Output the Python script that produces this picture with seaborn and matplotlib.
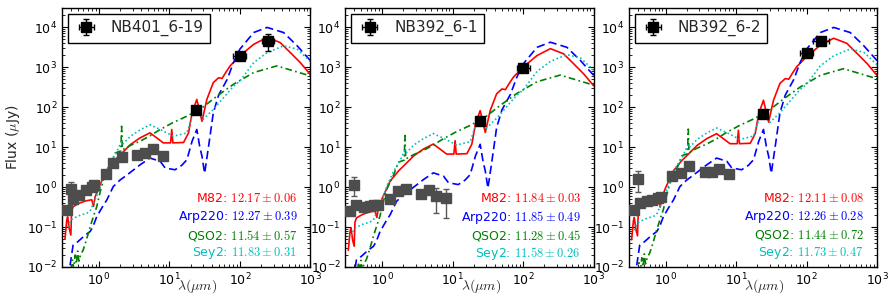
import numpy as np
import pandas as pd
import matplotlib
matplotlib.use('Agg')
import matplotlib.pyplot as plt
import seaborn as sns
from matplotlib.ticker import LogLocator, NullFormatter

# SED templates, as drawn in the first panel (wavelength um, flux uJy)
m82_wl = [0.33, 0.35, 0.36, 0.38, 0.40, 0.41, 0.43, 0.48, 0.54, 0.65, 0.79, 0.84, 0.88, 1.0, 1.3, 1.7,
          2.2, 2.8, 3.85, 5.3, 6.6, 8.2, 10.4, 10.8, 11.2, 15.9, 18.7, 21, 24.5, 29, 34, 42, 50, 56, 62,
          73, 100, 157, 243, 373, 520, 720, 1000]
m82_fx = [0.05, 0.15, 0.18, 0.09, 0.063, 0.25, 0.32, 0.36, 0.40, 0.45, 0.48, 0.33, 0.55, 1.0, 2.7, 4.8,
          7.5, 11.5, 17, 22.6, 17, 12.7, 12.7, 27.5, 12.7, 13, 22.6, 72, 155, 44, 155, 410, 540, 520, 700,
          1080, 1900, 3700, 5500, 4100, 2300, 1290, 650]

arp_wl = [0.39, 0.41, 0.43, 0.48, 0.54, 0.62, 0.75, 0.82, 0.93, 1.1, 1.3, 1.6, 2.0, 2.5, 3.85, 5.3, 7.4,
          8.7, 12, 15, 17.7, 21, 24.5, 27, 29, 31.6, 36, 42, 50, 66, 81, 100, 157, 243, 417, 650, 1000]
arp_fx = [0.011, 0.02, 0.035, 0.04, 0.048, 0.06, 0.077, 0.1, 0.18, 0.3, 0.48, 1.03, 1.5, 2.0, 3.6, 5.3, 4.4,
          3.0, 2.7, 3.5, 4.8, 14, 27.5, 10, 5.9, 2.2, 10.5, 72, 200, 490, 1290, 2800, 7300, 9800, 7300, 3400, 1450]

qso_wl = [0.40, 0.42, 0.44, 0.46, 0.48, 0.50, 0.52, 0.55, 0.6, 0.67, 0.75, 0.85, 0.93, 1.05, 1.16, 1.44,
          1.7, 2.05, 2.1, 2.15, 2.2, 2.8, 3.85, 5.3, 7.4, 11, 17.7, 30, 47, 81, 157, 335, 580, 1000]
qso_fx = [0.008, 0.015, 0.009, 0.02, 0.012, 0.025, 0.014, 0.02, 0.027, 0.05, 0.10, 0.2, 0.32, 0.8, 1.5, 3.3,
          7.1, 8, 33, 8.7, 8.7, 11, 14, 19, 27.5, 40, 59, 100, 186, 370, 730, 1070, 800, 600]

sey_wl = [0.36, 0.40, 0.45, 0.55, 0.67, 0.75, 0.84, 0.93, 1.04, 1.2, 1.44, 1.8, 2.1, 2.2, 2.8, 3.85, 5.3,
          7.4, 11.4, 17.7, 22, 24.5, 30, 42, 81, 100, 157, 243, 417, 650, 1000]
sey_fx = [0.10, 0.15, 0.17, 0.2, 0.22, 0.25, 0.40, 0.6, 1.0, 2.0, 4.0, 7.8, 14, 12, 18.6, 27, 36,
          27.5, 18.6, 22.6, 72, 105, 49, 87, 330, 445, 1290, 2300, 3400, 2800, 1380]

# normalisation of each template in each panel (dex, relative to panel 1)
m82_off = [0.0, -0.28, -0.02]
arp_off = [0.0, -0.37, 0.0]
qso_off = [0.0, -0.23, -0.07]
sey_off = [0.0, -0.22, -0.08]

names = ['NB401_6-19', 'NB392_6-1', 'NB392_6-2']

# optical / near-IR photometry (grey)
opt_wl = [[0.357, 0.40, 0.43, 0.53, 0.66, 0.81, 0.86, 1.27, 1.6, 2.1, 3.5, 4.5, 5.8, 8.1],
          [0.35, 0.40, 0.43, 0.55, 0.66, 0.76, 0.86, 1.27, 1.68, 2.2, 3.6, 4.6, 5.8, 8.0],
          [0.357, 0.41, 0.43, 0.54, 0.65, 0.77, 0.86, 1.25, 1.64, 2.16, 3.6, 4.5, 5.75, 8.0]]
opt_fx = [[0.26, 0.89, 0.51, 0.65, 0.85, 1.03, 1.15, 2.1, 4.1, 5.6, 6.5, 7.1, 8.9, 6.1],
          [0.245, 1.1, 0.36, 0.31, 0.34, 0.35, 0.35, 0.51, 0.78, 0.91, 0.68, 0.82, 0.58, 0.53],
          [0.26, 1.6, 0.41, 0.44, 0.48, 0.52, 0.55, 1.85, 2.3, 3.3, 2.4, 2.4, 2.9, 2.1]]
opt_lo = [[0, 0.35, 0, 0, 0, 0, 0, 0, 0, 0, 0, 0, 0, 0],
          [0, 0.5, 0, 0, 0, 0, 0, 0, 0, 0, 0, 0, 0.35, 0.36],
          [0, 0.87, 0, 0, 0, 0, 0, 0, 0, 0, 0, 0, 0, 0]]
opt_hi = [[0, 0.41, 0, 0, 0, 0, 0, 0, 0, 0, 0, 0, 0, 0],
          [0, 0.7, 0, 0, 0, 0, 0, 0, 0, 0, 0, 0, 0.34, 0.34],
          [0, 0.85, 0, 0, 0, 0, 0, 0, 0, 0, 0, 0, 0, 0]]

# mid/far-IR photometry (black)
ir_wl = [[24, 100, 250], [24, 100], [24, 100, 160]]
ir_fx = [[83, 1900, 4400], [44, 930], [68, 2300, 4600]]
ir_ylo = [[12, 300, 1900], [8, 150], [10, 350, 1100]]
ir_yhi = [[12, 300, 2200], [8, 150], [10, 350, 1100]]
ir_xlo = [[0, 19, 45], [0, 19], [0, 19, 38]]
ir_xhi = [[0, 23, 50], [0, 23], [0, 23, 45]]

# fitted log L_IR per template
fits = {'M82': ['12.17\\pm0.06', '11.84\\pm0.03', '12.11\\pm0.08'],
        'Arp220': ['12.27\\pm0.39', '11.85\\pm0.49', '12.26\\pm0.28'],
        'QSO2': ['11.54\\pm0.57', '11.28\\pm0.45', '11.44\\pm0.72'],
        'Sey2': ['11.83\\pm0.31', '11.58\\pm0.26', '11.73\\pm0.47']}

colors = {'M82': 'r', 'Arp220': 'b', 'QSO2': 'g', 'Sey2': 'c'}
dashes = {'M82': '', 'Arp220': (5, 2.5), 'QSO2': (4, 2, 1, 2), 'Sey2': (1, 1.5)}

sns.set_style('ticks')
plt.rcParams.update({
    'font.family': ['DejaVu Sans'],
    'mathtext.fontset': 'cm',
    'xtick.direction': 'in', 'ytick.direction': 'in',
    'xtick.top': True, 'ytick.right': True,
    'xtick.minor.visible': True, 'ytick.minor.visible': True,
    'xtick.major.size': 4, 'ytick.major.size': 4,
    'xtick.minor.size': 2, 'ytick.minor.size': 2,
    'xtick.color': 'k', 'ytick.color': 'k',
    'axes.edgecolor': 'k', 'axes.linewidth': 1.0,
    'xtick.labelsize': 9, 'ytick.labelsize': 9,
})

fig, axes = plt.subplots(1, 3, figsize=(8.94, 3.05), dpi=100)
fig.subplots_adjust(left=0.0694, right=0.981, bottom=0.1246, top=0.9738, wspace=0.141)

tpl = [('M82', m82_wl, m82_fx, m82_off), ('Arp220', arp_wl, arp_fx, arp_off),
       ('QSO2', qso_wl, qso_fx, qso_off), ('Sey2', sey_wl, sey_fx, sey_off)]

for i, ax in enumerate(axes):
    ax.set_xscale('log')
    ax.set_yscale('log')
    frames = []
    for name, wl, fx, off in tpl:
        frames.append(pd.DataFrame({'wl': wl, 'flux': np.array(fx) * 10 ** off[i], 'tpl': name}))
    df = pd.concat(frames, ignore_index=True)
    sns.lineplot(data=df, x='wl', y='flux', hue='tpl', style='tpl', palette=colors,
                 dashes=dashes, sort=False, estimator=None, legend=False, lw=1.2, ax=ax)

    ax.errorbar(opt_wl[i], opt_fx[i], yerr=[opt_lo[i], opt_hi[i]], fmt='s', color='0.3',
                ecolor='0.35', ms=6.5, elinewidth=1, capsize=2.5, zorder=5)
    ax.errorbar(ir_wl[i], ir_fx[i], xerr=[ir_xlo[i], ir_xhi[i]], yerr=[ir_ylo[i], ir_yhi[i]],
                fmt='s', color='k', ms=7, elinewidth=1, capsize=2.5, zorder=6, label=names[i])

    ax.set_xlim(0.3, 1000)
    ax.set_ylim(0.01, 3e4)
    ax.yaxis.set_major_locator(LogLocator(base=10, numticks=15))
    ax.xaxis.set_major_locator(LogLocator(base=10, numticks=15))
    ax.xaxis.set_minor_formatter(NullFormatter())
    ax.yaxis.set_minor_formatter(NullFormatter())
    ax.set_xlabel(r'$\lambda(\mu m)$', fontsize=10)
    ax.xaxis.set_label_coords(0.545, -0.04)
    if i == 0:
        ax.set_ylabel(r'Flux ($\mu$Jy)', fontsize=10)
    else:
        ax.set_ylabel(None)

    leg = ax.legend(loc='upper left', fontsize=11, fancybox=False, edgecolor='k', framealpha=1,
                    handlelength=1.6, borderaxespad=0.4)
    leg.get_frame().set_linewidth(1.0)

    for j, key in enumerate(['M82', 'Arp220', 'QSO2', 'Sey2']):
        ax.text(0.948, 0.263 - j * 0.07, key + ': $' + fits[key][i] + '$', color=colors[key],
                fontsize=9, ha='right', va='center', transform=ax.transAxes)

fig.savefig('out.png', dpi=100)
